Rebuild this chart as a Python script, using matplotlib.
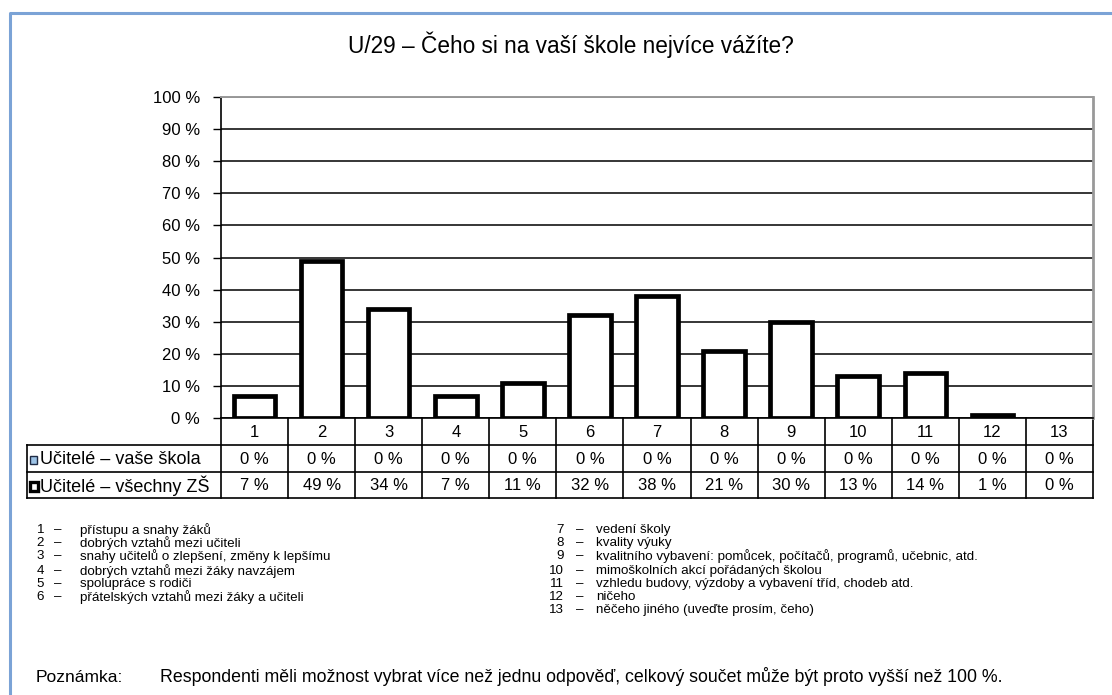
import matplotlib.pyplot as plt
from matplotlib.lines import Line2D
from matplotlib.patches import Rectangle
from matplotlib.transforms import blended_transform_factory

plt.rcParams['font.family'] = ['Liberation Sans', 'DejaVu Sans']

# --------------------------------------------------
# Data
# --------------------------------------------------
categories = [str(i) for i in range(1, 14)]
vase_skola = [0, 0, 0, 0, 0, 0, 0, 0, 0, 0, 0, 0, 0]
vsechny_zs = [7, 49, 34, 7, 11, 32, 38, 21, 30, 13, 14, 1, 0]
series_names = ["Učitelé – vaše škola", "Učitelé – všechny ZŠ"]
title = "U/29 – Čeho si na vaší škole nejvíce vážíte?"
legend_items = [
    "přístupu a snahy žáků",
    "dobrých vztahů mezi učiteli",
    "snahy učitelů o zlepšení, změny k lepšímu",
    "dobrých vztahů mezi žáky navzájem",
    "spolupráce s rodiči",
    "přátelských vztahů mezi žáky a učiteli",
    "vedení školy",
    "kvality výuky",
    "kvalitního vybavení: pomůcek, počítačů, programů, učebnic, atd.",
    "mimoškolních akcí pořádaných školou",
    "vzhledu budovy, výzdoby a vybavení tříd, chodeb atd.",
    "ničeho",
    "něčeho jiného (uveďte prosím, čeho)",
]
note_label = "Poznámka:"
note_text = ("Respondenti měli možnost vybrat více než jednu odpověď, "
             "celkový součet může být proto vyšší než 100 %.")

W, H = 1112, 695


def fx(x):
    return x / W


def fy(y):
    return 1 - y / H


fig = plt.figure(figsize=(W / 100, H / 100), dpi=100)

# outer blue frame
fig.add_artist(Line2D([fx(9.5), fx(9.5), fx(W)], [fy(H), fy(13), fy(13)],
                      color="#7ba3d6", lw=2.2, transform=fig.transFigure))

fig.text(fx(571), fy(45), title, ha="center", va="center", fontsize=16.3)

# --------------------------------------------------
# Bar chart
# --------------------------------------------------
ax_left, ax_right, ax_top, ax_bottom = 221, 1093, 97, 418
ax = fig.add_axes([fx(ax_left), fy(ax_bottom),
                   (ax_right - ax_left) / W, (ax_bottom - ax_top) / H])

x = list(range(1, len(categories) + 1))
lws = [3.4 if v > 0 else 0 for v in vsechny_zs]
ax.bar(x, vsechny_zs, width=0.62, facecolor="white", edgecolor="black",
       linewidth=lws, zorder=3)

ax.set_xlim(0.5, len(categories) + 0.5)
ax.set_ylim(0, 100)
ax.set_yticks(range(0, 101, 10))
ax.set_yticklabels([f"{v} %" for v in range(0, 101, 10)])
ax.set_xticks([])
ax.yaxis.grid(True, color="black", lw=1.1, zorder=1)
ax.tick_params(axis="y", direction="out", length=6, width=1, pad=9,
               labelsize=12)
ax.spines["left"].set_linewidth(1.2)
ax.spines["bottom"].set_linewidth(1.2)
ax.spines["top"].set_color("#999999")
ax.spines["top"].set_linewidth(1.4)
ax.spines["right"].set_color("#999999")
ax.spines["right"].set_linewidth(2)

# --------------------------------------------------
# Data table below the axis
# --------------------------------------------------
trans = blended_transform_factory(ax.transData, fig.transFigure)
rows = [418, 445, 472, 498]
lab_left = 27
tlw = 1.2
tfs = 12

for xi in [i + 0.5 for i in range(len(categories) + 1)]:
    ax.add_line(Line2D([xi, xi], [fy(rows[0]), fy(rows[-1])], color="black",
                       lw=tlw, transform=trans, clip_on=False))
for r in rows[1:]:
    fig.add_artist(Line2D([fx(lab_left), fx(ax_right)], [fy(r), fy(r)],
                          color="black", lw=tlw, transform=fig.transFigure))
fig.add_artist(Line2D([fx(lab_left), fx(lab_left)], [fy(rows[1]), fy(rows[-1])],
                      color="black", lw=tlw, transform=fig.transFigure))

cy = [(rows[i] + rows[i + 1]) / 2 + 1 for i in range(3)]
for xi, cat, v1, v2 in zip(x, categories, vase_skola, vsechny_zs):
    ax.text(xi, fy(cy[0]), cat, transform=trans, ha="center", va="center",
            fontsize=tfs)
    ax.text(xi, fy(cy[1]), f"{v1} %", transform=trans, ha="center",
            va="center", fontsize=tfs)
    ax.text(xi, fy(cy[2]), f"{v2} %", transform=trans, ha="center",
            va="center", fontsize=tfs)

# series keys in the label cells
fig.add_artist(Rectangle((fx(30), fy(cy[1] + 4)), 7 / W, 8 / H,
                         facecolor="#9dc3e6", edgecolor="#1f2a44", lw=1,
                         transform=fig.transFigure))
fig.add_artist(Rectangle((fx(30), fy(cy[2] + 4.5)), 8 / W, 9 / H,
                         facecolor="white", edgecolor="black", lw=2.4,
                         transform=fig.transFigure))
for c, name in zip(cy[1:], series_names):
    fig.text(fx(40), fy(c), name, ha="left", va="center", fontsize=13)

# --------------------------------------------------
# Category legend
# --------------------------------------------------
lfs = 9.6
row_y = [530, 543, 556, 571, 584, 597, 610]
for i, item in enumerate(legend_items):
    if i < 6:
        y = row_y[i]
        num_x, dash_x, txt_x = 44, 58, 80
    else:
        y = row_y[i - 6]
        num_x, dash_x, txt_x = 564, 580, 596
    fig.text(fx(num_x), fy(y), str(i + 1), ha="right", va="center",
             fontsize=lfs)
    fig.text(fx(dash_x), fy(y), "–", ha="center", va="center", fontsize=lfs)
    fig.text(fx(txt_x), fy(y), item, ha="left", va="center", fontsize=lfs)

fig.text(fx(36), fy(677), note_label, ha="left", va="center", fontsize=12.5)
fig.text(fx(160), fy(677), note_text, ha="left", va="center", fontsize=12.8)

plt.savefig("out.png", dpi=100, facecolor="white")
plt.close()
